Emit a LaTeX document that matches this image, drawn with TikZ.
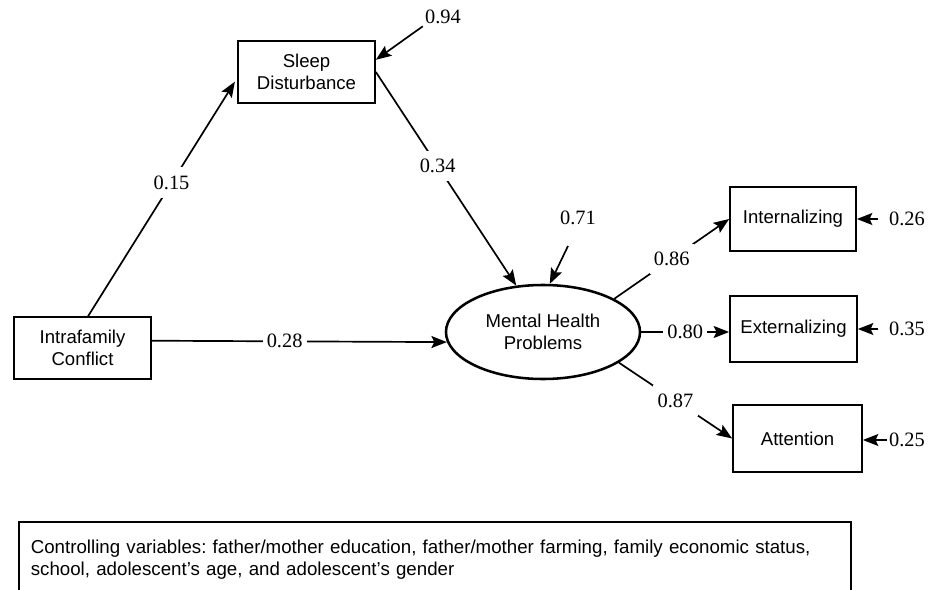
\documentclass[tikz,border=0pt]{standalone}
\usepackage{fontspec}
\setmainfont{Liberation Serif}
\setsansfont{Liberation Sans}
\usetikzlibrary{arrows.meta,shapes.geometric}
\frenchspacing

\begin{document}
\begin{tikzpicture}[x=0.025cm,y=-0.025cm,
  varbox/.style={draw,line width=1.2pt,align=center,inner sep=0pt,
    font=\sffamily\fontsize{13.2}{15.4}\selectfont},
  coef/.style={font=\fontsize{14.5}{16}\selectfont,inner sep=1.5pt},
  onpath/.style={coef,fill=white,inner xsep=3pt,inner ysep=6pt},
  effect/.style={line width=1.2pt,-{Stealth[length=11pt,width=8.5pt,inset=2pt]}}]
\useasboundingbox (0,0) rectangle (938,590);

% Variables
\node[varbox,minimum width=3.425cm,minimum height=1.55cm] (sleep) at (306.5,72) {Sleep\\Disturbance};
\node[varbox,minimum width=3.425cm,minimum height=1.55cm] (intra) at (82.5,348) {Intrafamily\\Conflict};
\node[varbox,ellipse,line width=1.8pt,minimum width=4.85cm,minimum height=2.35cm] (mhp) at (543,332) {Mental Health\\Problems};
\node[varbox,minimum width=3.15cm,minimum height=1.6cm] (intern) at (793,219) {Internalizing};
\node[varbox,minimum width=3.175cm,minimum height=1.65cm] (extern) at (793.5,329) {Externalizing};
\node[varbox,minimum width=3.225cm,minimum height=1.675cm] (attn) at (797.5,438.5) {Attention};

% Paths with coefficients
\draw[effect,shorten >=3pt] (intra.80) -- node[onpath,pos=0.56] (p15) {0.15} (sleep.185);
\draw[effect] (sleep.east) -- node[onpath,pos=0.44] (p34) {0.34} (mhp.120);
\draw[effect] (intra.6) -- node[onpath,pos=0.45] (p28) {0.28} (mhp.186);
\draw[effect] (mhp.25) -- node[onpath,pos=0.5] (p86) {0.86} (intern.west);
\draw[effect] (mhp.east) -- node[onpath] (p80) {0.80} (mhp.east -| extern.west);
\draw[effect] (mhp.-22) -- node[onpath] (p87) {0.87} (attn.west);

% Residuals
\node[coef] (r94) at (443,17) {0.94};
\draw[effect] (r94.south west) -- (sleep.10);
\node[coef] (r71) at (578,218) {0.71};
\coordinate (r71tail) at (568,246);
\draw[effect] (r71tail) -- (mhp.82);
\node[coef] (r26) at (907,219) {0.26};
\draw[effect,shorten <=6pt] (r26.west) -- (r26.west -| intern.east);
\node[coef] (r35) at (907,329) {0.35};
\draw[effect,shorten <=6pt] (r35.west) -- (r35.west -| extern.east);
\node[coef] (r25) at (907,440) {0.25};
\draw[effect] (r25.west) -- (r25.west -| attn.east);

% Controls
\node[draw,line width=1.2pt,anchor=north west,minimum height=1.875cm,text width=20.2cm,inner xsep=0.3cm,align=left,
  font=\sffamily\fontsize{13.3}{15.6}\selectfont] (ctrl) at (18,521)
  {Controlling variables: father/mother education, father/mother farming, family economic status,\\
   school, adolescent's age, and adolescent's gender};
\end{tikzpicture}
\end{document}
